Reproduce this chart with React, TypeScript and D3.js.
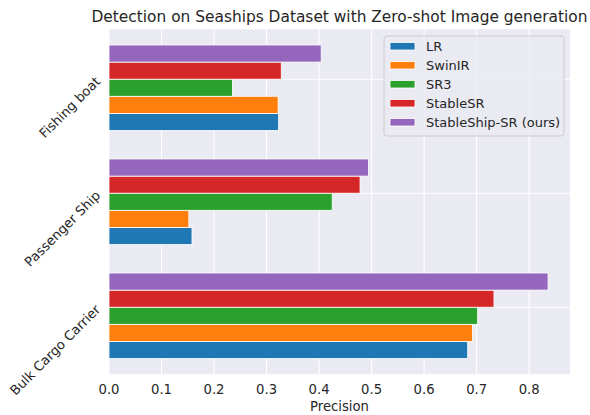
import React from 'react';
import * as d3 from 'd3';

const categories = ["Bulk Cargo Carrier", "Passenger Ship", "Fishing boat"];
const seriesNames = ["LR", "SwinIR", "SR3", "StableSR", "StableShip-SR (ours)"];
const lrValues = [0.683, 0.158, 0.323];
const swinirValues = [0.692, 0.152, 0.322];
const sr3Values = [0.702, 0.425, 0.235];
const stableSrValues = [0.733, 0.478, 0.328];
const stableShipValues = [0.836, 0.494, 0.404];
const xTicks = [0, 0.1, 0.2, 0.3, 0.4, 0.5, 0.6, 0.7, 0.8];

const colors = ["#1f77b4", "#ff7f0e", "#2ca02c", "#d62728", "#9467bd"];
const W = 590, H = 415;
const margin = {top: 29.3, right: 20, bottom: 40.8, left: 109};
const barH = 0.15;
const font = "'DejaVu Sans', sans-serif";
const textColor = "#262626";

export default function App() {
  const series = [lrValues, swinirValues, sr3Values, stableSrValues, stableShipValues];
  const maxV = d3.max(series.flat()) as number;

  const x = d3.scaleLinear().domain([0, maxV * 1.05]).range([margin.left, W - margin.right]);
  // bar centres at i + j*barH, 5% margins like matplotlib
  const lo = -barH / 2, hi = categories.length - 1 + (series.length - 1) * barH + barH / 2;
  const pad = (hi - lo) * 0.05;
  const y = d3.scaleLinear().domain([lo - pad, hi + pad]).range([H - margin.bottom, margin.top]);
  const tickPos = categories.map((_, i) => i + barH * series.length / 2);

  const [x0, x1] = x.range();
  const [y0, y1] = y.range();

  return (
    <svg width={W} height={H} style={{position: 'absolute', left: 0, top: 0, background: 'white'}} fontFamily={font}>
      <text x={(x0 + x1) / 2} y={22} textAnchor="middle" fontSize={15.4} fill={textColor}>
        Detection on Seaships Dataset with Zero-shot Image generation
      </text>
      <rect x={x0} y={y1} width={x1 - x0} height={y0 - y1} fill="#eaeaf2" />
      {xTicks.map(t => (
        <line key={'gx' + t} x1={x(t)} x2={x(t)} y1={y1} y2={y0} stroke="white" strokeWidth={1.1} />
      ))}
      {tickPos.map((t, i) => (
        <line key={'gy' + i} x1={x0} x2={x1} y1={y(t)} y2={y(t)} stroke="white" strokeWidth={1.1} />
      ))}
      {series.map((vals, j) => (
        <g key={'s' + j}>
          {vals.map((v, i) => {
            const c = i + j * barH;
            return (
              <rect key={i} x={x(0)} y={y(c + barH / 2)} width={x(v) - x(0)} height={y(c - barH / 2) - y(c + barH / 2)}
                fill={colors[j]} stroke="white" strokeWidth={0.8} />
            );
          })}
        </g>
      ))}
      {xTicks.map(t => (
        <text key={'tx' + t} x={x(t)} y={y0 + 19.8} textAnchor="middle" fontSize={13.2} fill={textColor}>
          {t.toFixed(1)}
        </text>
      ))}
      <text x={(x0 + x1) / 2} y={H - 4} textAnchor="middle" fontSize={13.2} fill={textColor}>Precision</text>
      {categories.map((c, i) => (
        <text key={'ty' + i} transform={`translate(${x0 - 11},${y(tickPos[i])}) rotate(-45)`} textAnchor="end"
          dominantBaseline="central" fontSize={13.2} fill={textColor}>{c}</text>
      ))}
      <g>
        <rect x={384} y={36} width={180} height={100} rx={3} fill="#eaeaf2" fillOpacity={0.8} stroke="#cccccc" strokeWidth={1} />
        {seriesNames.map((n, j) => (
          <g key={'l' + j} transform={`translate(390,${46 + j * 19})`}>
            <rect x={0} y={-3.5} width={25} height={7.5} fill={colors[j]} stroke="white" strokeWidth={0.8} />
            <text x={36} y={0.5} dominantBaseline="central" fontSize={13} fill={textColor}>{n}</text>
          </g>
        ))}
      </g>
    </svg>
  );
}
